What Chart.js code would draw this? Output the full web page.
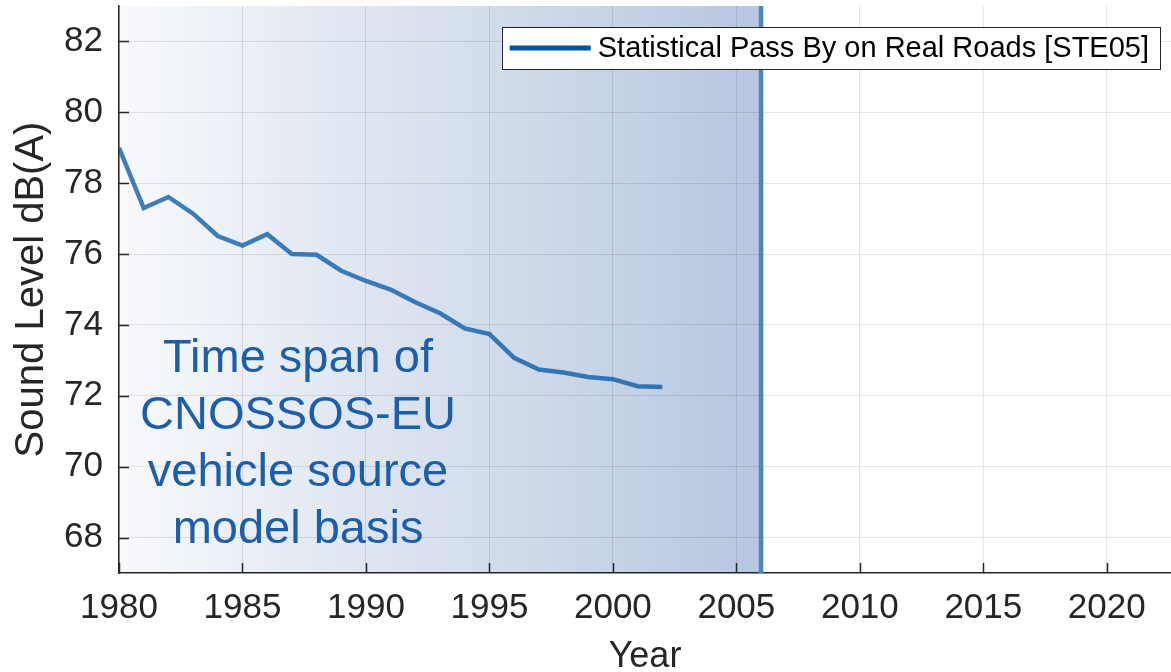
<!DOCTYPE html>
<html>
<head>
<meta charset="utf-8">
<script src="https://cdn.jsdelivr.net/npm/chart.js@4.4.0/dist/chart.umd.min.js"></script>
<style>
  html, body { margin: 0; padding: 0; background: #fff; }
  #chart { display: block; }
</style>
</head>
<body>
<canvas id="chart" width="1171" height="672"></canvas>
<script>
// yearly mean pass-by level, dB(A)
const years = [1980, 1981, 1982, 1983, 1984, 1985, 1986, 1987, 1988, 1989, 1990, 1991,
               1992, 1993, 1994, 1995, 1996, 1997, 1998, 1999, 2000, 2001, 2002];
const levels = [79.0, 77.3, 77.61, 77.14, 76.51, 76.24, 76.56, 76.0, 75.98, 75.53, 75.24, 75.0,
                74.64, 74.33, 73.9, 73.74, 73.07, 72.74, 72.66, 72.53, 72.47, 72.27, 72.25];
const xTicks = [1980, 1985, 1990, 1995, 2000, 2005, 2010, 2015, 2020];
const yTicks = [68, 70, 72, 74, 76, 78, 80, 82];
const spanStart = 1980;
const spanEnd = 2006;
const spanCaption = ['Time span of', 'CNOSSOS-EU', 'vehicle source', 'model basis'];
const seriesLabel = 'Statistical Pass By on Real Roads [STE05]';

const FONT = '"Liberation Sans", Arial, Helvetica, sans-serif';
const AXIS_INK = '#262626';

// shaded span, end marker, caption, inward ticks and boxed legend
const spanPlugin = {
  id: 'spanPlugin',
  beforeDraw(chart) {
    const { ctx, chartArea: a, scales: { x } } = chart;
    const x0 = x.getPixelForValue(spanStart);
    const x1 = x.getPixelForValue(spanEnd);
    const g = ctx.createLinearGradient(x0, 0, x1, 0);
    g.addColorStop(0, 'rgb(248,249,251)');
    g.addColorStop(1, 'rgb(183,199,224)');
    ctx.save();
    ctx.fillStyle = g;
    ctx.fillRect(x0, a.top, x1 - x0, a.bottom - a.top);
    ctx.restore();
  },
  beforeDatasetsDraw(chart) {
    const { ctx, chartArea: a, scales: { x } } = chart;
    const px = x.getPixelForValue(spanEnd);
    ctx.save();
    ctx.strokeStyle = '#4a86c0';
    ctx.lineWidth = 4.5;
    ctx.beginPath();
    ctx.moveTo(px, a.top);
    ctx.lineTo(px, a.bottom);
    ctx.stroke();
    ctx.restore();
  },
  afterDatasetsDraw(chart) {
    const { ctx, scales: { x, y } } = chart;
    const cx = x.getPixelForValue(1987.25);
    let cy = y.getPixelForValue(72.68);
    ctx.save();
    ctx.font = '47px ' + FONT;
    ctx.fillStyle = '#1c5ea8';
    ctx.textAlign = 'center';
    ctx.textBaseline = 'alphabetic';
    spanCaption.forEach(line => {
      ctx.fillText(line, cx, cy);
      cy += 57;
    });
    ctx.restore();
  },
  afterDraw(chart) {
    const { ctx, chartArea: a, scales: { x, y } } = chart;
    ctx.save();
    // MATLAB-style ticks pointing into the axes
    ctx.strokeStyle = AXIS_INK;
    ctx.lineWidth = 1.5;
    ctx.beginPath();
    xTicks.forEach(v => {
      const px = Math.round(x.getPixelForValue(v)) + 0.5;
      ctx.moveTo(px, a.bottom);
      ctx.lineTo(px, a.bottom - 10);
    });
    yTicks.forEach(v => {
      const py = Math.round(y.getPixelForValue(v)) + 0.5;
      ctx.moveTo(a.left, py);
      ctx.lineTo(a.left + 10, py);
    });
    ctx.stroke();

    // legend box in the upper right corner
    const ds = chart.data.datasets[0];
    ctx.font = '29px ' + FONT;
    const tw = ctx.measureText(ds.label).width;
    const boxR = a.right - 11;
    const boxT = a.top + 21;
    const boxH = 42;
    const boxL = boxR - (8 + 81 + 7 + tw + 11);
    ctx.fillStyle = '#ffffff';
    ctx.fillRect(boxL, boxT, boxR - boxL, boxH);
    ctx.strokeStyle = AXIS_INK;
    ctx.lineWidth = 1;
    ctx.strokeRect(Math.round(boxL) + 0.5, Math.round(boxT) + 0.5, Math.round(boxR - boxL), boxH);
    const my = boxT + boxH / 2;
    ctx.strokeStyle = '#0055a4';
    ctx.lineWidth = 5;
    ctx.beginPath();
    ctx.moveTo(boxL + 8, my);
    ctx.lineTo(boxL + 89, my);
    ctx.stroke();
    ctx.fillStyle = '#000000';
    ctx.textAlign = 'left';
    ctx.textBaseline = 'middle';
    ctx.fillText(ds.label, boxL + 96, my + 1);
    ctx.restore();
  }
};

new Chart(document.getElementById('chart'), {
  type: 'line',
  data: {
    datasets: [{
      label: seriesLabel,
      data: years.map((yr, i) => ({ x: yr, y: levels[i] })),
      borderColor: 'rgba(0,85,164,0.75)',
      borderWidth: 4.5,
      pointRadius: 0,
      tension: 0,
      fill: false
    }]
  },
  options: {
    responsive: false,
    animation: false,
    devicePixelRatio: 1,
    layout: { padding: { top: 6, right: 0, bottom: 0, left: 0 } },
    plugins: {
      legend: { display: false },
      tooltip: { enabled: false }
    },
    scales: {
      x: {
        type: 'linear',
        min: 1980,
        max: 2022.6,
        afterBuildTicks: s => { s.ticks = xTicks.map(v => ({ value: v })); },
        afterFit: s => { s.height = 99; s.paddingLeft = 0; s.paddingRight = 0; },
        grid: { color: 'rgba(0,0,0,0.1)', lineWidth: 1, drawTicks: false },
        border: { color: AXIS_INK, width: 1.5 },
        ticks: {
          padding: 14,
          color: AXIS_INK,
          font: { family: FONT, size: 35 },
          maxRotation: 0,
          callback: v => String(v)
        },
        title: {
          display: true,
          text: 'Year',
          color: AXIS_INK,
          font: { family: FONT, size: 36, lineHeight: 1 },
          padding: { top: 0, bottom: -3 }
        }
      },
      y: {
        type: 'linear',
        min: 67,
        max: 83,
        afterBuildTicks: s => { s.ticks = yTicks.map(v => ({ value: v })); },
        afterFit: s => { s.width = 119; s.paddingTop = 0; s.paddingBottom = 0; },
        grid: { color: 'rgba(0,0,0,0.1)', lineWidth: 1, drawTicks: false },
        border: { color: AXIS_INK, width: 1.5 },
        ticks: {
          padding: 16,
          color: AXIS_INK,
          font: { family: FONT, size: 35 },
          callback: v => String(v)
        },
        title: {
          display: true,
          text: 'Sound Level dB(A)',
          color: AXIS_INK,
          font: { family: FONT, size: 40, lineHeight: 1 },
          padding: { top: 12, bottom: 0 }
        }
      }
    }
  },
  plugins: [spanPlugin]
});
</script>
</body>
</html>
